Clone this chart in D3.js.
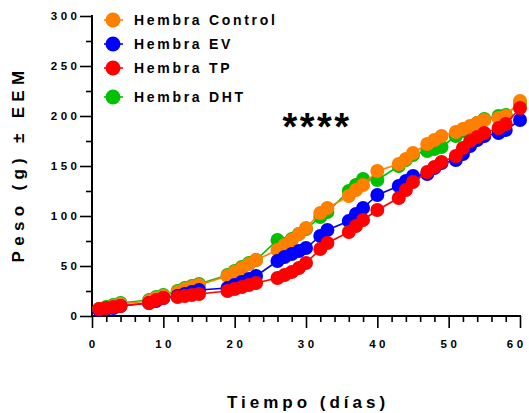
<!DOCTYPE html>
<html>
<head>
<meta charset="utf-8">
<script src="https://cdn.jsdelivr.net/npm/d3@7"></script>
<style>
  html, body { margin: 0; padding: 0; background: #fff; }
  svg { display: block; }
  text { font-family: "Liberation Sans", Arial, sans-serif; font-weight: bold; fill: #000; }
</style>
</head>
<body>
<svg id="chart" width="529" height="413"></svg>
<script>
// ---- data ----
const days = [1,2,3,4, 8,9,10, 12,13,14,15, 19,20,21,22,23, 26,27,28,29,30, 32,33, 36,37,38, 40, 43,44,45, 47,48,49, 51,52,53,54,55, 57,58, 60];

const control = [7,8,10,12, 15,18,20, 24,27,29,31, 40,44,48,52,56, 66,71,76,82,88, 103,108, 120,126,131, 145, 152,157,163, 172,176,180, 184,187,190,193,196, 198,200, 215];
const ev      = [6,7,8,10, 13,15,18, 20,22,24,26, 28,31,34,37,40, 55,59,62,65,68, 80,86, 95,102,108, 121, 130,135,140, 142,148,153, 156,162,170,176,180, 183,186, 196];
const tp      = [7,8,9,10, 13,16,18, 19,20,21,22, 25,27,29,31,33, 38,41,44,48,53, 67,73, 84,90,96, 106, 118,126,134, 144,149,154, 160,168,175,179,183, 188,192, 208];
const dht     = [7,9,11,13, 16,19,21, 25,28,30,32, 41,45,49,53,56, 76,72,77,82,87, 99,104, 125,131,137, 136, 150,156,161, 165,167,169, 180,185,189,193,197, 200,201, 213];

const seriesNames  = ["Hembra Control", "Hembra EV", "Hembra TP", "Hembra DHT"];
const seriesColors = ["#FF8000", "#0000FF", "#FF0000", "#00C000"];
const seriesValues = [control, ev, tp, dht];
const drawOrder = [3, 0, 1, 2];   // DHT at the back, TP on top

const xTicks = [0,10,20,30,40,50,60];
const yTicks = [0,50,100,150,200,250,300];
const xTitle = "Tiempo (días)";
const yTitle = "Peso (g) ± EEM";
const significance = "****";

// ---- layout ----
const svg = d3.select("#chart");
const x = d3.scaleLinear().domain([0, 60]).range([92, 520]);
const y = d3.scaleLinear().domain([0, 300]).range([316, 16]);

// axes
const xAxisG = svg.append("g").attr("transform", `translate(0,${y(0)})`);
xAxisG.call(d3.axisBottom(x).tickValues(d3.range(0, 61, 2)).tickSize(6).tickFormat(""));
xAxisG.selectAll(".tick line").attr("stroke-width", 1.6)
  .attr("y2", d => d % 10 === 0 ? 12 : 6);
xAxisG.select(".domain").attr("stroke-width", 2).attr("d", `M${x(0)},0H${x(60)+1}`);

const yAxisG = svg.append("g").attr("transform", `translate(${x(0)},0)`);
yAxisG.call(d3.axisLeft(y).tickValues(d3.range(0, 301, 25)).tickSize(6).tickFormat(""));
yAxisG.selectAll(".tick line").attr("stroke-width", 1.6)
  .attr("x2", d => d % 50 === 0 ? -12 : -6);
yAxisG.select(".domain").attr("stroke-width", 2).attr("d", `M0,${y(300)-1}V${y(0)+1}`);

// tick labels
const ls = 3.5;
svg.append("g").selectAll("text").data(xTicks).join("text")
  .attr("x", d => (d === 60 ? x(d) - 5 : x(d)) + ls / 2).attr("y", 348)
  .attr("text-anchor", "middle").attr("font-size", 11.5)
  .attr("letter-spacing", ls).text(d => d);
svg.append("g").selectAll("text").data(yTicks).join("text")
  .attr("x", 77 + ls).attr("y", d => y(d) + 4)
  .attr("text-anchor", "end").attr("font-size", 11.5)
  .attr("letter-spacing", ls).text(d => d);

// axis titles
svg.append("text").attr("x", 306 + 2).attr("y", 408)
  .attr("text-anchor", "middle").attr("font-size", 17).attr("letter-spacing", 4)
  .text(xTitle);
svg.append("text").attr("transform", "translate(24,164) rotate(-90)")
  .attr("text-anchor", "middle").attr("font-size", 17).attr("letter-spacing", 5.3)
  .text(yTitle);

// series
const line = d3.line().x(d => x(d[0])).y(d => y(d[1]));
drawOrder.forEach(i => {
  const pts = days.map((d, k) => [d, seriesValues[i][k]]);
  const g = svg.append("g");
  g.append("path").datum(pts).attr("d", line)
    .attr("fill", "none").attr("stroke", seriesColors[i]).attr("stroke-width", 1.6);
  g.selectAll("circle").data(pts).join("circle")
    .attr("cx", d => x(d[0])).attr("cy", d => y(d[1])).attr("r", 7)
    .attr("fill", seriesColors[i]);
});

// significance stars
svg.append("text").attr("x", 317).attr("y", 139.5)
  .attr("text-anchor", "middle").attr("font-size", 38).attr("letter-spacing", 2.5)
  .text(significance);

// legend
const legendY = [20, 44, 68, 97];
const lg = svg.append("g");
seriesNames.forEach((name, i) => {
  lg.append("line").attr("x1", 104).attr("x2", 123)
    .attr("y1", legendY[i]).attr("y2", legendY[i])
    .attr("stroke", seriesColors[i]).attr("stroke-width", 1.6);
  lg.append("circle").attr("cx", 113).attr("cy", legendY[i]).attr("r", 7.5)
    .attr("fill", seriesColors[i]);
  lg.append("text").attr("x", 134).attr("y", legendY[i] + 5)
    .attr("font-size", 14).attr("letter-spacing", 2.7).text(name);
});
</script>
</body>
</html>
